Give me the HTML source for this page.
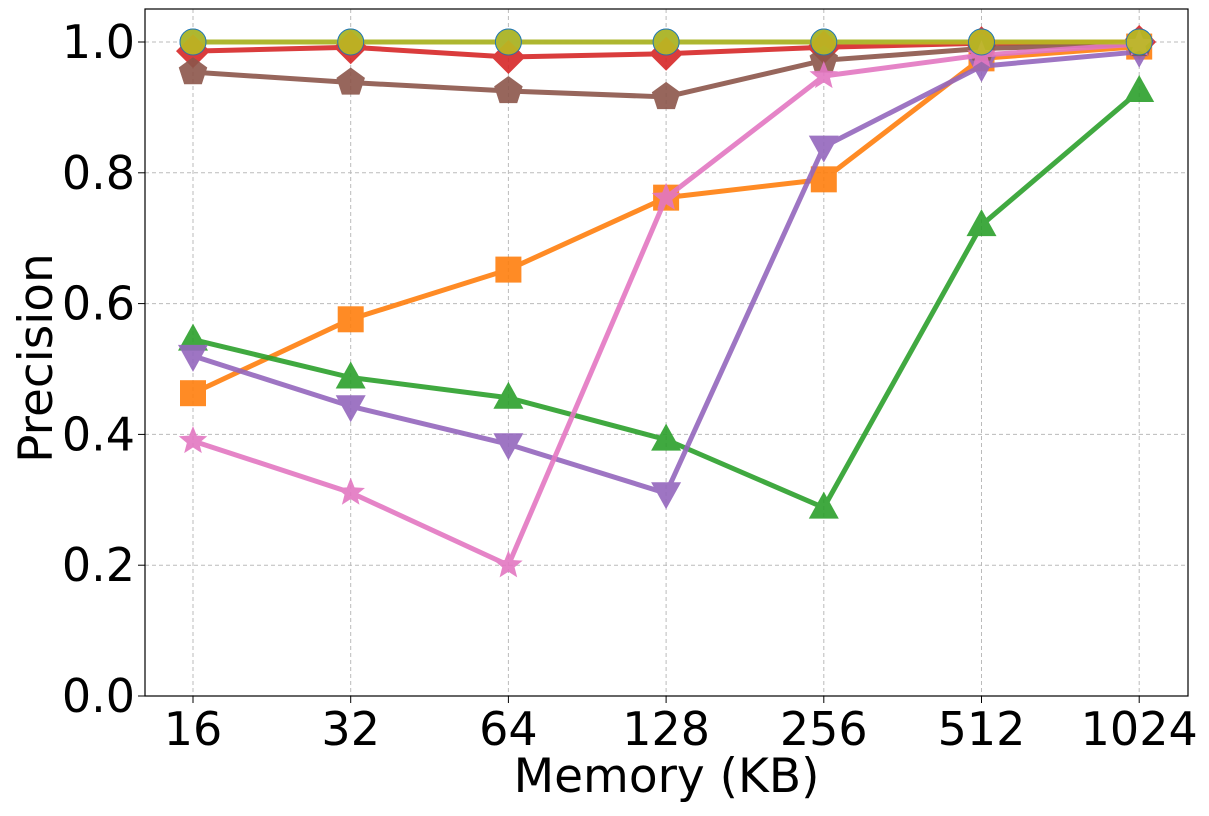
<!DOCTYPE html>
<html><head><meta charset="utf-8"><style>
body{margin:0;background:#fff;}
text{font-family:"DejaVu Sans","Liberation Sans",sans-serif;}
</style></head><body>
<svg id="chart" width="1209" height="811" xmlns="http://www.w3.org/2000/svg"></svg>
<script>
const categories=["16","32","64","128","256","512","1024"];
const yTicks=[0,0.2,0.4,0.6,0.8,1.0];
const sBlue=[1,1,1,1,1,1,1];
const sOrange=[0.463,0.576,0.652,0.762,0.79,0.975,0.993];
const sGreen=[0.545,0.487,0.456,0.392,0.288,0.72,0.925];
const sRed=[0.986,0.992,0.977,0.982,0.992,0.998,1.0];
const sPurple=[0.52,0.443,0.385,0.31,0.84,0.963,0.985];
const sBrown=[0.954,0.938,0.925,0.916,0.972,0.99,0.997];
const sPink=[0.39,0.311,0.2,0.762,0.948,0.98,0.997];
const sOlive=[1,1,1,1,1,1,1];
const L=145,R=1188,T=9,B=696;
const x=i=>193+i*157.7;
const y=v=>696-v*654;
const svg=document.getElementById('chart');
const NS='http://www.w3.org/2000/svg';
function el(t,a,p){const e=document.createElementNS(NS,t);for(const k in a)e.setAttribute(k,a[k]);(p||svg).appendChild(e);return e;}
categories.forEach((c,i)=>{
const g=el('line',{x1:x(i),x2:x(i),y1:T,y2:B,stroke:'#bbb','stroke-dasharray':'4,3','stroke-width':1});


el('line',{x1:x(i),x2:x(i),y1:B,y2:B+7,stroke:'#000','stroke-width':1});
const t=el('text',{x:x(i),y:745,'font-size':46,'text-anchor':'middle',fill:'#000'});t.textContent=c;


});
yTicks.forEach(v=>{
const g=el('line',{x1:L,x2:R,y1:y(v),y2:y(v),stroke:'#bbb','stroke-dasharray':'4,3','stroke-width':1});


el('line',{x1:L-7,x2:L,y1:y(v),y2:y(v),stroke:'#000','stroke-width':1});
const t=el('text',{x:L-10,y:y(v)+16,'font-size':46,'text-anchor':'end',fill:'#000'});t.textContent=v.toFixed(1);


});
function marker(kind,cx,cy,col,g){
const r=13;
if(kind==='o')return el('circle',{cx,cy,r:13,fill:col,stroke:'#1f77b4','stroke-width':1},g);
if(kind==='s')return el('rect',{x:cx-r,y:cy-r,width:2*r,height:2*r,fill:col},g);
let pts=[];
if(kind==='^')pts=[[0,-16],[15,11],[-15,11]];
if(kind==='v')pts=[[0,16],[15,-11],[-15,-11]];
if(kind==='D')pts=[[0,-17],[17,0],[0,17],[-17,0]];
if(kind==='p'){for(let k=0;k<5;k++){const a=-Math.PI/2+k*2*Math.PI/5;pts.push([15*Math.cos(a),15*Math.sin(a)]);}}
if(kind==='*'){for(let k=0;k<10;k++){const a=-Math.PI/2+k*Math.PI/5;const rr=k%2?6.5:15;pts.push([rr*Math.cos(a),rr*Math.sin(a)]);}}
return el('polygon',{points:pts.map(p=>(cx+p[0])+','+(cy+p[1])).join(' '),fill:col},g);
}
const series=[[sBlue,'#1f77b4','o','series-blue'],[sOrange,'#ff7f0e','s','series-orange'],[sGreen,'#2ca02c','^','series-green'],[sRed,'#d62728','D','series-red'],[sPurple,'#9467bd','v','series-purple'],[sBrown,'#8c564b','p','series-brown'],[sPink,'#e377c2','*','series-pink'],[sOlive,'#bcbd22','o','series-olive']];
series.forEach(([d,c,m,n])=>{
const g=el('g',{opacity:0.9});


el('polyline',{points:d.map((v,i)=>x(i)+','+y(v)).join(' '),fill:'none',stroke:c,'stroke-width':5,'stroke-linejoin':'round'},g);
d.forEach((v,i)=>{const mk=marker(m,x(i),y(v),c,g);

});
});
const fr=el('rect',{x:L,y:T,width:R-L,height:B-T,fill:'none',stroke:'#000','stroke-width':1.2});


const xt=el('text',{x:(L+R)/2,y:792,'font-size':47,'text-anchor':'middle'});xt.textContent='Memory (KB)';


const yt=el('text',{x:0,y:0,'font-size':47,'text-anchor':'middle',transform:'translate(52,358) rotate(-90)'});yt.textContent='Precision';


</script>
</body></html>
